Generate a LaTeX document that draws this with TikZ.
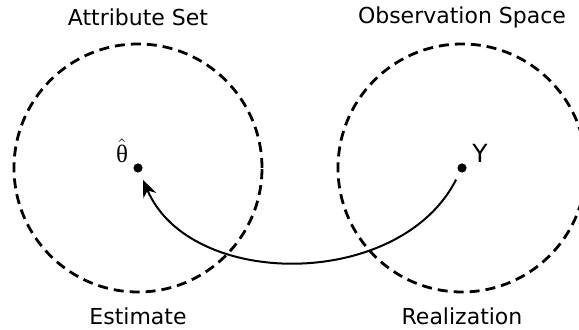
\documentclass[tikz,border=0pt]{standalone}
\usepackage{fontspec}
\setmainfont{DejaVu Sans}
\newfontfamily\greekfont{Liberation Serif}
\usetikzlibrary{arrows.meta}

\begin{document}
\begin{tikzpicture}[x=0.5pt, y=-0.5pt,
    space/.style={circle, draw, line width=1.4pt, dash pattern=on 5pt off 3pt,
                  minimum size=124pt, inner sep=0pt},
    point/.style={circle, fill, inner sep=0pt, minimum size=4.6pt},
    title/.style={anchor=base, font=\fontsize{11}{13}\selectfont},
    arrow/.style={-{Stealth[length=8.5pt, width=7pt]}, line width=1pt,
                  shorten <=4pt, shorten >=4pt}
]
\useasboundingbox (0,0) rectangle (579,330);

\node[space] (attrset)  at (138,168) {};
\node[space] (obsspace) at (462,168) {};

\node[point] (est) at (138,168) {};
\node[point] (obs) at (462,168) {};

\node[anchor=base, font=\fontsize{12.5}{14}\selectfont] (thetalabel) at (122,163) {$\hat{\mbox{\greekfont θ}}$};
\node[anchor=base, font=\fontsize{12.5}{14}\selectfont] (ylabel) at (480,163) {Y};

\node[title] (attrtitle) at (138,26) {Attribute Set};
\node[title] (obstitle)  at (462,24) {Observation Space};
\node[title] (esttitle)  at (138,325) {Estimate};
\node[title] (realtitle) at (462,325) {Realization};

\draw[arrow] (obs) .. controls +(-62,122) and +(52,122) .. (est);
\end{tikzpicture}
\end{document}
